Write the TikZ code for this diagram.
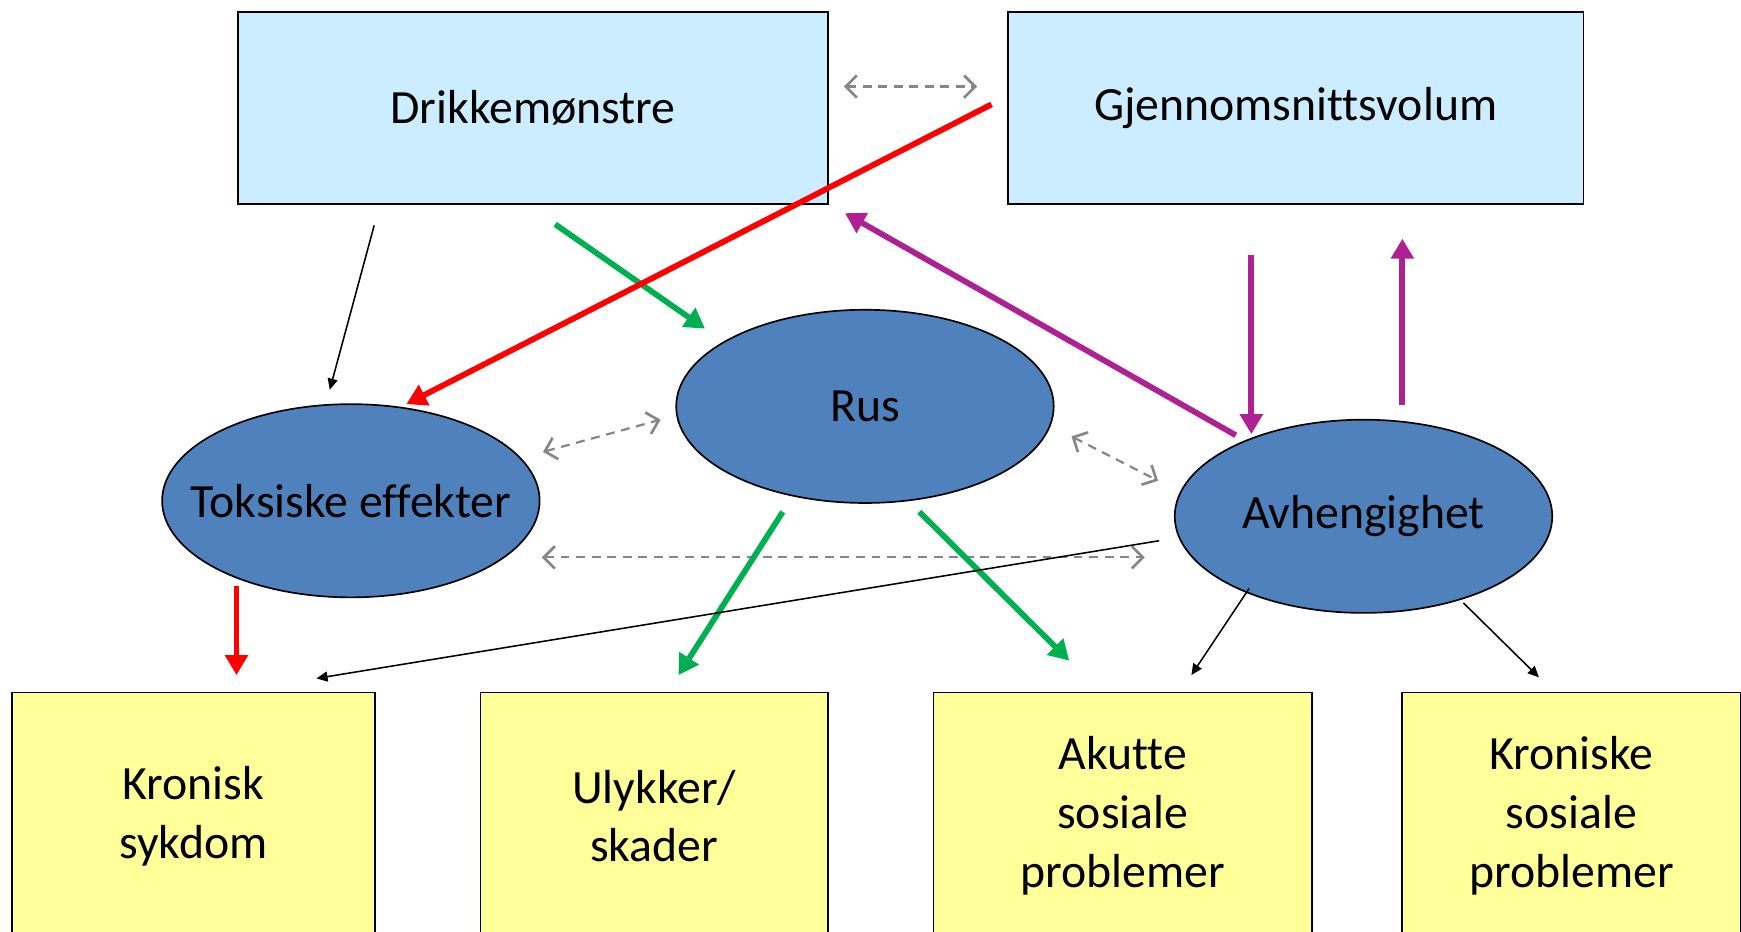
\documentclass[tikz,border=0pt]{standalone}
\usepackage{fontspec}
\setmainfont{Carlito}[Ligatures=NoCommon]
\usetikzlibrary{arrows.meta,shapes.geometric}
\definecolor{lblue}{HTML}{CCECFF}
\definecolor{eblue}{HTML}{4F81BD}
\definecolor{lyellow}{HTML}{FFFF99}
\definecolor{mgreen}{HTML}{00B050}
\definecolor{mpurple}{HTML}{AE2192}
\definecolor{mgray}{HTML}{868686}
\tikzset{
  bigfont/.style={font=\fontsize{21.5}{26.5}\selectfont},
  topbox/.style={draw=black, line width=0.75pt, fill=lblue, minimum width=265.5pt, minimum height=86.5pt, inner sep=0pt, bigfont},
  oval/.style={ellipse, draw=black, line width=0.75pt, fill=eblue, minimum width=170pt, minimum height=87pt, inner sep=0pt},
  botbox/.style={draw=black, line width=0.75pt, fill=lyellow, anchor=north west, inner sep=0pt, minimum height=112pt},
  botlabel/.style={align=center, bigfont, inner sep=0pt},
  dbl/.style={mgray, line width=1pt, dash pattern=on 4pt off 3pt, {Straight Barb[length=5pt,width=10pt,line width=1.2pt]}-{Straight Barb[length=5pt,width=10pt,line width=1.2pt]}},
  thick arrow/.style={line width=2.6pt, -{Triangle[length=9pt,width=10pt]}},
  thin arrow/.style={black, line width=0.7pt, -{Triangle[length=5pt,width=4.5pt]}},
}
\begin{document}
\begin{tikzpicture}[x=0.5pt,y=-0.5pt]
\useasboundingbox (0,0) rectangle (1568,839);
% top boxes
\node[topbox] (drikke) at (480,97.5) {Drikkemønstre};
\node[topbox, minimum width=259pt] (gjenn) at (1167,97.5) {Gjennomsnittsvolum};
% ellipses
\node[oval] (rus) at (779,366) {};
\node[bigfont] (ruslbl) at (rus.center) {Rus};
\node[oval] (toks) at (316,451) {};
\node[bigfont] (tokslbl) at (toks.center) {Toksiske effekter};
\node[oval] (avh) at (1228,465) {};
\node[bigfont] (avhlbl) at (avh.center) {Avhengighet};
% bottom boxes
\node[botbox, minimum width=163.5pt] (kron) at (10,623) {};
\node[botlabel] (kronlbl) at ([yshift=-56pt]kron.north) {Kronisk\\sykdom};
\node[botbox, minimum width=156.5pt] (ulyk) at (432,623) {};
\node[botlabel] (ulyklbl) at ([yshift=-56pt]ulyk.north) {Ulykker/\\skader};
\node[botbox, minimum width=170.5pt] (akutt) at (840,623) {};
\node[botlabel] (akuttlbl) at ([yshift=-56pt]akutt.north) {Akutte\\sosiale\\problemer};
\node[botbox, minimum width=152.5pt] (krsos) at (1262,623) {};
\node[botlabel] (krsoslbl) at ([yshift=-56pt]krsos.north) {Kroniske\\sosiale\\problemer};
% coordinates
\coordinate (a1) at (760,78); \coordinate (a2) at (880,78);
\coordinate (b1) at (489,407); \coordinate (b2) at (595,378);
\coordinate (c1) at (965,393); \coordinate (c2) at (1043,433);
\coordinate (d1) at (488,502); \coordinate (d2) at (1031,502);
\coordinate (r1) at (893,94); \coordinate (r2) at (366,364);
\coordinate (k1) at (337,203); \coordinate (k2) at (297,351);
\coordinate (g1) at (500,202); \coordinate (g2) at (635,296);
\coordinate (p1) at (1113,392); \coordinate (p2) at (761,192);
\coordinate (q1) at (1127,230); \coordinate (q2) at (1127,391);
\coordinate (u1) at (1263,365); \coordinate (u2) at (1263,215);
\coordinate (rd1) at (213,528); \coordinate (rd2) at (213,608);
\coordinate (g3) at (705,461); \coordinate (g4) at (611,608);
\coordinate (g5) at (828,461); \coordinate (g6) at (963,595);
\coordinate (l1) at (1044,487); \coordinate (l2) at (285,611);
\coordinate (m1) at (1125,530); \coordinate (m2) at (1073,608);
\coordinate (n1) at (1318,543); \coordinate (n2) at (1386,610);
% arrows
\draw[dbl] (a1) -- (a2);
\draw[dbl] (b1) -- (b2);
\draw[dbl] (c1) -- (c2);
\draw[dbl] (d1) -- (d2);
\draw[thin arrow] (k1) -- (k2);
\draw[thick arrow, mgreen] (g1) -- (g2);
\draw[thick arrow, red] (r1) -- (r2);
\draw[thick arrow, mpurple] (p1) -- (p2);
\draw[thick arrow, mpurple] (q1) -- (q2);
\draw[thick arrow, mpurple] (u1) -- (u2);
\draw[thick arrow, red] (rd1) -- (rd2);
\draw[thick arrow, mgreen] (g3) -- (g4);
\draw[thick arrow, mgreen] (g5) -- (g6);
\draw[thin arrow] (l1) -- (l2);
\draw[thin arrow] (m1) -- (m2);
\draw[thin arrow] (n1) -- (n2);
\end{tikzpicture}
\end{document}
